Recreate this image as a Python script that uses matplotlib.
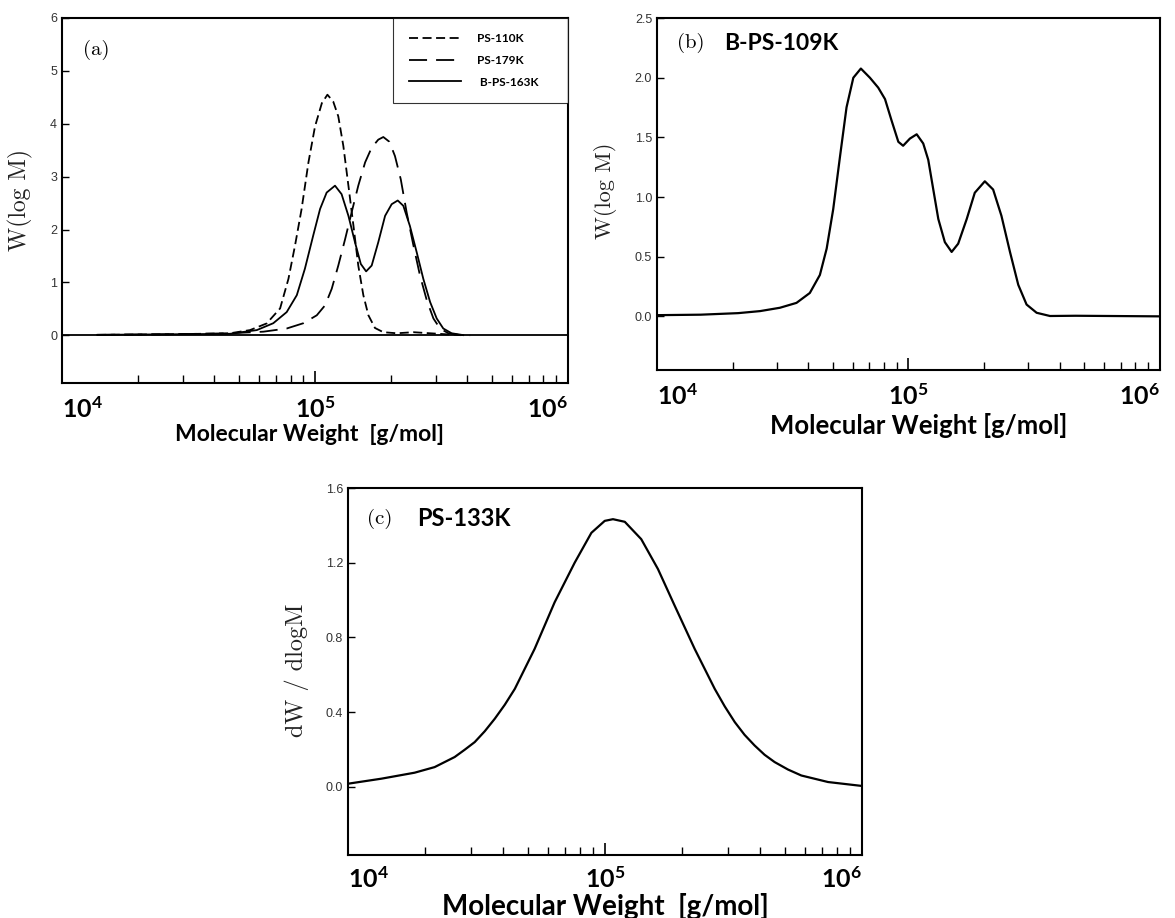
import numpy as np
import matplotlib
matplotlib.use('Agg')
import matplotlib.pyplot as plt
from matplotlib.ticker import LogLocator, NullFormatter

plt.rcParams['mathtext.fontset'] = 'custom'
plt.rcParams['mathtext.bf'] = 'Lato:bold'
plt.rcParams['mathtext.rm'] = 'Lato'

# ---- panel (a) data: log10(M) vs W(log M) ----
a110_logm = [4.139, 4.40, 4.55, 4.664, 4.743, 4.809, 4.862, 4.895, 4.921, 4.947, 4.974, 5.000,
             5.027, 5.049, 5.072, 5.092, 5.112, 5.132, 5.152, 5.171, 5.191, 5.211, 5.237,
             5.270, 5.323, 5.389, 5.455, 5.521, 5.586]
a110_w = [0.01, 0.02, 0.03, 0.04, 0.10, 0.226, 0.51, 1.07, 1.70, 2.39, 3.27, 3.95,
          4.39, 4.55, 4.42, 4.14, 3.58, 2.83, 2.07, 1.32, 0.76, 0.38, 0.14,
          0.06, 0.04, 0.06, 0.04, 0.02, 0.005]

a179_logm = [4.139, 4.40, 4.55, 4.664, 4.796, 4.888, 4.954, 5.007, 5.040, 5.066, 5.092, 5.119,
             5.145, 5.171, 5.198, 5.224, 5.250, 5.270, 5.294, 5.316, 5.339, 5.362, 5.389,
             5.415, 5.442, 5.468, 5.494, 5.527, 5.573, 5.613]
a179_w = [0.01, 0.02, 0.03, 0.04, 0.07, 0.13, 0.23, 0.38, 0.57, 0.88, 1.32, 1.82,
          2.33, 2.83, 3.27, 3.55, 3.70, 3.75, 3.66, 3.39, 2.95, 2.33, 1.70,
          1.13, 0.66, 0.32, 0.13, 0.04, 0.005, 0.0]

a163_logm = [4.139, 4.40, 4.55, 4.664, 4.770, 4.835, 4.888, 4.928, 4.960, 4.993, 5.020, 5.046,
             5.079, 5.105, 5.132, 5.158, 5.181, 5.202, 5.224, 5.250, 5.277, 5.303, 5.327,
             5.349, 5.375, 5.402, 5.428, 5.455, 5.481, 5.507, 5.540, 5.586]
a163_w = [0.01, 0.02, 0.025, 0.03, 0.10, 0.23, 0.44, 0.76, 1.26, 1.89, 2.39, 2.70,
          2.83, 2.67, 2.26, 1.76, 1.35, 1.21, 1.32, 1.76, 2.26, 2.48, 2.55,
          2.45, 2.07, 1.57, 1.07, 0.63, 0.32, 0.13, 0.04, 0.005]

# ---- panel (b) data ----
b_logm = [4.0, 4.174, 4.323, 4.410, 4.489, 4.555, 4.608, 4.648, 4.675, 4.701, 4.728, 4.754,
          4.781, 4.811, 4.847, 4.880, 4.907, 4.933, 4.960, 4.979, 5.006, 5.033, 5.059,
          5.079, 5.099, 5.119, 5.145, 5.172, 5.198, 5.232, 5.264, 5.304, 5.337, 5.370,
          5.404, 5.437, 5.470, 5.510, 5.563, 5.665, 5.80, 6.0]
b_w = [0.01, 0.014, 0.027, 0.044, 0.072, 0.113, 0.196, 0.347, 0.568, 0.898, 1.339, 1.752,
       2.00, 2.077, 2.00, 1.917, 1.821, 1.642, 1.463, 1.430, 1.490, 1.526, 1.449,
       1.312, 1.063, 0.816, 0.622, 0.540, 0.609, 0.816, 1.036, 1.132, 1.063, 0.843,
       0.540, 0.264, 0.099, 0.030, 0.003, 0.005, 0.003, 0.0]

# ---- panel (c) data ----
c_logm = [4.000, 4.130, 4.259, 4.337, 4.415, 4.454, 4.493, 4.532, 4.571, 4.610, 4.649, 4.726,
          4.804, 4.882, 4.947, 4.999, 5.031, 5.077, 5.141, 5.206, 5.271, 5.349, 5.427,
          5.466, 5.505, 5.543, 5.582, 5.621, 5.660, 5.712, 5.764, 5.868, 6.000]
c_w = [0.016, 0.043, 0.075, 0.105, 0.159, 0.198, 0.239, 0.297, 0.364, 0.439, 0.524, 0.738,
       0.988, 1.20, 1.36, 1.424, 1.433, 1.419, 1.326, 1.166, 0.97, 0.738, 0.524,
       0.43, 0.346, 0.278, 0.221, 0.171, 0.132, 0.092, 0.060, 0.025, 0.004]

xticks = [1e4, 1e5, 1e6]
xticklabels = [r'$\mathbf{10^{4}}$', r'$\mathbf{10^{5}}$', r'$\mathbf{10^{6}}$']

fig = plt.figure(figsize=(11.75, 9.18), dpi=100)
ax_a = fig.add_axes([0.0528, 0.5828, 0.4306, 0.3976])
ax_b = fig.add_axes([0.5591, 0.5969, 0.4280, 0.3834])
ax_c = fig.add_axes([0.2962, 0.0686, 0.4374, 0.3998])

serif = 'cmr10'
sans = 'Lato'


def style(ax, ylim, yticks, ylabel, xlab, xlab_pos, ylab_pos, pad, xlab_size, ylab_size):
    ax.set_xscale('log')
    ax.set_xlim(1e4, 1e6)
    ax.set_ylim(*ylim)
    for s in ax.spines.values():
        s.set_linewidth(1.5)
    ax.set_yticks(yticks)
    ax.tick_params(axis='y', direction='in', length=5, width=1, labelsize=9,
                   labelcolor='#333333', right=False)
    for t in ax.get_yticklabels():
        t.set_fontfamily('Liberation Sans')
    ax.set_xticks(xticks)
    ax.set_xticklabels(xticklabels)
    ax.xaxis.set_minor_locator(LogLocator(base=10, subs=np.arange(2, 10)))
    ax.xaxis.set_minor_formatter(NullFormatter())
    ax.tick_params(axis='x', which='major', direction='in', length=9, width=1.2,
                   pad=pad, labelsize=18, top=False)
    ax.tick_params(axis='x', which='minor', direction='in', length=6, width=1, top=False)
    labels = ax.get_xticklabels()
    labels[0].set_ha('left')
    labels[-1].set_ha('right')
    ax.set_xlabel(xlab, fontsize=xlab_size, fontweight='bold', family=sans)
    ax.xaxis.set_label_coords(*xlab_pos)
    ax.xaxis.label.set_va('center')
    ax.set_ylabel(ylabel, fontsize=ylab_size, family=serif, color='#222222')
    ax.yaxis.set_label_coords(*ylab_pos)
    ax.yaxis.label.set_va('center')


# panel (a)
ax_a.axhline(0, color='black', lw=1.3)
ax_a.plot(10 ** np.array(a110_logm), a110_w, color='black', lw=1.3,
          ls=(0, (5, 2.5)), label='PS-110K')
ax_a.plot(10 ** np.array(a179_logm), a179_w, color='black', lw=1.3,
          ls=(0, (10, 5)), label='PS-179K')
ax_a.plot(10 ** np.array(a163_logm), a163_w, color='black', lw=1.3,
          ls='-', label=' B-PS-163K')
style(ax_a, (-0.9, 6), [0, 1, 2, 3, 4, 5, 6], 'W(log M)',
      'Molecular Weight  [g/mol]', (0.49, -0.142), (-0.083, 0.5), 10, 16.5, 17)
ax_a.text(0.042, 0.913, '(a)', transform=ax_a.transAxes, family=serif,
          fontsize=15, va='center', ha='left')
leg = ax_a.legend(loc='upper left', bbox_to_anchor=(0.655, 1.0, 0.345, 0.0),
                  mode='expand', frameon=True, fancybox=False, edgecolor='black',
                  handlelength=4.4, handletextpad=1.4, labelspacing=0.9,
                  borderpad=1.3, borderaxespad=0,
                  prop={'family': sans, 'weight': 'bold', 'size': 8.5})
leg.get_frame().set_linewidth(0.8)

# panel (b)
ax_b.plot(10 ** np.array(b_logm), b_w, color='black', lw=1.6)
style(ax_b, (-0.45, 2.5), [0.0, 0.5, 1.0, 1.5, 2.0, 2.5], 'W(log M)',
      'Molecular Weight [g/mol]', (0.52, -0.158), (-0.103, 0.51), 10, 18.5, 16)
ax_b.set_yticklabels(['0.0', '0.5', '1.0', '1.5', '2.0', '2.5'])
ax_b.text(0.039, 0.928, '(b)', transform=ax_b.transAxes, family=serif,
          fontsize=15, va='center', ha='left')
ax_b.text(0.133, 0.928, 'B-PS-109K', transform=ax_b.transAxes, family=sans,
          fontsize=16.5, fontweight='bold', va='center', ha='left')

# panel (c)
ax_c.plot(10 ** np.array(c_logm), c_w, color='black', lw=1.6)
style(ax_c, (-0.366, 1.6), [0.0, 0.4, 0.8, 1.2, 1.6], 'dW / dlogM',
      'Molecular Weight  [g/mol]', (0.5, -0.14), (-0.099, 0.504), 9, 20, 17.5)
ax_c.set_yticklabels(['0.0', '0.4', '0.8', '1.2', '1.6'])
ax_c.text(0.037, 0.917, '(c)', transform=ax_c.transAxes, family=serif,
          fontsize=15, va='center', ha='left')
ax_c.text(0.135, 0.917, 'PS-133K', transform=ax_c.transAxes, family=sans,
          fontsize=17, fontweight='bold', va='center', ha='left')

fig.savefig('out.png', dpi=100)
